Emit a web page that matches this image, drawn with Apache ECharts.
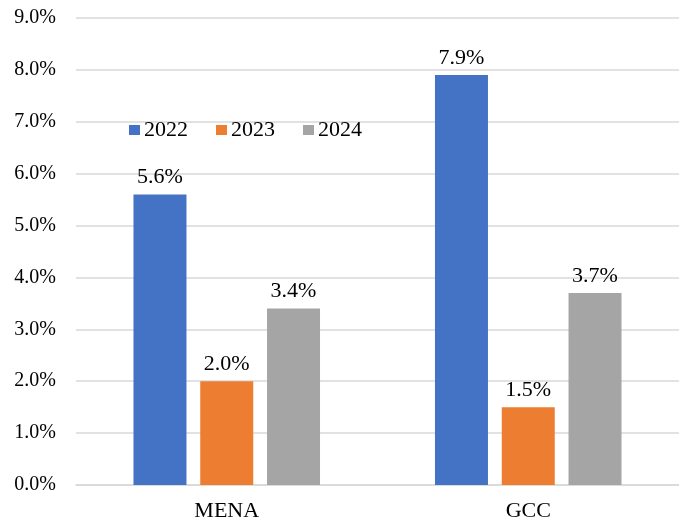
<!DOCTYPE html>
<html>
<head>
<meta charset="utf-8">
<script src="https://cdn.jsdelivr.net/npm/echarts@6/dist/echarts.min.js"></script>
<style>
  html, body { margin: 0; padding: 0; background: #fff; }
  #chart { width: 679px; height: 524px; }
</style>
</head>
<body>
<div id="chart"></div>
<script>
// dữ liệu
var regions = ['MENA', 'GCC'];
var years = ['2022', '2023', '2024'];
var values2022 = [5.6, 7.9];
var values2023 = [2.0, 1.5];
var values2024 = [3.4, 3.7];
var colors = ['#4472C4', '#ED7D31', '#A5A5A5'];

var fontFamily = '"Liberation Serif", "Times New Roman", serif';

function makeSeries(name, data, color) {
    return {
        name: name,
        type: 'bar',
        data: data,
        barWidth: 53,
        barGap: '26%',
        itemStyle: { color: color },
        label: {
            show: true,
            position: 'top',
            distance: 6,
            color: '#000',
            fontFamily: fontFamily,
            fontSize: 22,
            formatter: function (p) { return p.value.toFixed(1) + '%'; }
        }
    };
}

var chart = echarts.init(document.getElementById('chart'));
chart.setOption({
    animation: false,
    textStyle: { fontFamily: fontFamily },
    grid: { left: 76, right: -5, top: 18, bottom: 39 },
    legend: {
        data: years,
        left: 124,
        top: 114,
        icon: 'rect',
        itemWidth: 11,
        itemHeight: 10,
        itemGap: 28,
        textStyle: { fontFamily: fontFamily, fontSize: 22, color: '#000', padding: [0, 0, 0, -1] }
    },
    xAxis: {
        type: 'category',
        data: regions,
        axisLine: { lineStyle: { color: '#d9d9d9', width: 1.5 } },
        axisTick: { show: false },
        axisLabel: { fontFamily: fontFamily, fontSize: 22, color: '#000', margin: 15 }
    },
    yAxis: {
        type: 'value',
        min: 0,
        max: 9,
        interval: 1,
        axisLine: { show: false },
        axisTick: { show: false },
        splitLine: { lineStyle: { color: '#d9d9d9', width: 1.5 } },
        axisLabel: {
            fontFamily: fontFamily,
            fontSize: 20,
            color: '#000',
            margin: 20,
            formatter: function (v) { return v.toFixed(1) + '%'; }
        }
    },
    series: [
        makeSeries(years[0], values2022, colors[0]),
        makeSeries(years[1], values2023, colors[1]),
        makeSeries(years[2], values2024, colors[2])
    ]
});
</script>
</body>
</html>
